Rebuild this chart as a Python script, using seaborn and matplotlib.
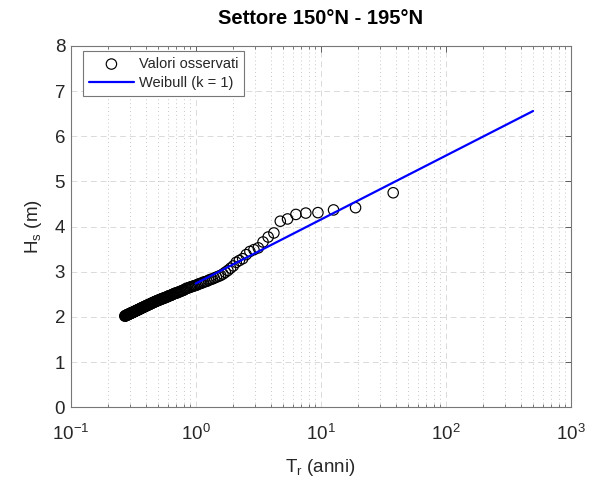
import numpy as np
import pandas as pd
import matplotlib
matplotlib.use("Agg")
import matplotlib.pyplot as plt
from matplotlib.ticker import LogLocator, NullFormatter, FixedLocator
import seaborn as sns

# Observed values: return period (years) and significant wave height (m)
Tr_obs = [38.0, 19.0, 12.667, 9.5, 7.6, 6.333, 5.429, 4.75, 4.222, 3.8,
          3.455, 3.167, 2.923, 2.714, 2.533, 2.375, 2.235, 2.111, 2.0, 1.9,
          1.810, 1.727, 1.652, 1.583, 1.52, 1.462, 1.407, 1.357, 1.310, 1.267,
          1.226, 1.188, 1.152, 1.118, 1.086, 1.056, 1.027, 1.0, 0.974, 0.95,
          0.927, 0.905, 0.884, 0.864, 0.844, 0.826, 0.809, 0.792, 0.776, 0.76,
          0.745, 0.731, 0.717, 0.704, 0.691, 0.679, 0.667, 0.655, 0.644, 0.633,
          0.623, 0.613, 0.603, 0.594, 0.585, 0.576, 0.567, 0.559, 0.551, 0.543,
          0.535, 0.528, 0.521, 0.514, 0.507, 0.5, 0.494, 0.487, 0.481, 0.475,
          0.469, 0.463, 0.458, 0.452, 0.447, 0.442, 0.437, 0.432, 0.427, 0.422,
          0.418, 0.413, 0.409, 0.404, 0.4, 0.396, 0.392, 0.388, 0.384, 0.38,
          0.376, 0.373, 0.369, 0.365, 0.362, 0.358, 0.355, 0.352, 0.349, 0.345,
          0.342, 0.339, 0.336, 0.333, 0.330, 0.328, 0.325, 0.322, 0.319, 0.317,
          0.314, 0.311, 0.309, 0.306, 0.304, 0.302, 0.299, 0.297, 0.295, 0.292,
          0.290, 0.288, 0.286, 0.284, 0.281, 0.279, 0.277, 0.275, 0.273, 0.271]
Hs_obs = [4.75, 4.42, 4.37, 4.31, 4.30, 4.27, 4.17, 4.12, 3.86, 3.77,
          3.66, 3.53, 3.49, 3.45, 3.38, 3.29, 3.25, 3.21, 3.13, 3.08,
          3.03, 2.99, 2.95, 2.92, 2.90, 2.88, 2.86, 2.84, 2.83, 2.81,
          2.79, 2.78, 2.77, 2.75, 2.74, 2.73, 2.71, 2.70, 2.69, 2.68,
          2.67, 2.66, 2.65, 2.64, 2.63, 2.62, 2.60, 2.59, 2.58, 2.57,
          2.56, 2.55, 2.54, 2.53, 2.53, 2.52, 2.51, 2.50, 2.49, 2.48,
          2.47, 2.47, 2.46, 2.45, 2.44, 2.43, 2.43, 2.42, 2.41, 2.41,
          2.40, 2.39, 2.39, 2.38, 2.37, 2.37, 2.36, 2.35, 2.35, 2.34,
          2.33, 2.33, 2.32, 2.31, 2.31, 2.30, 2.29, 2.29, 2.28, 2.27,
          2.27, 2.26, 2.26, 2.25, 2.24, 2.24, 2.23, 2.23, 2.22, 2.21,
          2.21, 2.20, 2.20, 2.19, 2.19, 2.18, 2.17, 2.17, 2.16, 2.16,
          2.15, 2.15, 2.14, 2.14, 2.13, 2.13, 2.12, 2.12, 2.11, 2.11,
          2.10, 2.10, 2.09, 2.09, 2.09, 2.08, 2.08, 2.07, 2.07, 2.06,
          2.06, 2.05, 2.05, 2.05, 2.04, 2.04, 2.03, 2.03, 2.02, 2.02]

# Weibull (k = 1) fitted line
Tr_fit = [1.0, 500.0]
Hs_fit = [2.74, 6.56]

title = "Settore 150°N - 195°N"
xlabel = r"T$_\mathregular{r}$ (anni)"
ylabel = r"H$_\mathregular{s}$ (m)"
label_obs = "Valori osservati"
label_fit = "Weibull (k = 1)"

sns.set_style("white")
plt.rcParams["font.family"] = ["Liberation Sans", "DejaVu Sans"]
plt.rcParams["mathtext.default"] = "regular"

fig = plt.figure(figsize=(5.95, 4.84), dpi=100)
ax = fig.add_axes([0.1188, 0.1585, 0.8404, 0.7465])

df_obs = pd.DataFrame({"Tr": Tr_obs, "Hs": Hs_obs})
df_fit = pd.DataFrame({"Tr": Tr_fit, "Hs": Hs_fit})

sns.scatterplot(data=df_obs, x="Tr", y="Hs", ax=ax, marker="o",
                facecolors="none", edgecolor="black", s=56, linewidth=0.85,
                label=label_obs, zorder=3)
sns.lineplot(data=df_fit, x="Tr", y="Hs", ax=ax, color=(0, 0, 1),
             linewidth=1.6, label=label_fit, zorder=4)

ax.set_xscale("log")
ax.set_xlim(0.1, 1000)
ax.set_ylim(0, 8)
ax.set_yticks(range(0, 9))
ax.xaxis.set_major_locator(FixedLocator([0.1, 1, 10, 100, 1000]))
ax.xaxis.set_minor_locator(LogLocator(base=10, subs=np.arange(2, 10), numticks=20))
ax.xaxis.set_minor_formatter(NullFormatter())

ax.grid(True, which="major", axis="both", linestyle=(0, (6, 4)),
        color="#dadada", linewidth=0.7)
ax.grid(True, which="minor", axis="x", linestyle=(0, (1, 3)),
        color="#c8c8c8", linewidth=0.7)
ax.set_axisbelow(True)

for sp in ax.spines.values():
    sp.set_color("#777777")
    sp.set_linewidth(0.8)
ax.tick_params(axis="both", which="major", direction="in", length=4,
               width=0.6, color="#444444", top=True, right=True,
               labelsize=13.5, labelcolor="#262626")
ax.tick_params(axis="x", which="major", pad=12)
ax.tick_params(axis="y", which="major", pad=4)
ax.tick_params(axis="x", which="minor", direction="in", length=2.5,
               width=0.5, color="#444444", top=True, bottom=True)

ax.set_title(title, fontsize=14.5, fontweight="bold", color="black", pad=16)
ax.set_xlabel(xlabel, fontsize=13.5, color="#262626", labelpad=9)
ax.set_ylabel(ylabel, fontsize=13.5, color="#262626", labelpad=8)

leg = ax.legend(loc="upper left", bbox_to_anchor=(0.0246, 0.986),
                borderaxespad=0, fontsize=10.5, frameon=True, fancybox=False,
                edgecolor="#777777", framealpha=1, handlelength=3.1,
                handletextpad=0.35, labelspacing=0.35, borderpad=0.4)
leg.get_frame().set_linewidth(0.8)

fig.savefig("out.png", dpi=100)
